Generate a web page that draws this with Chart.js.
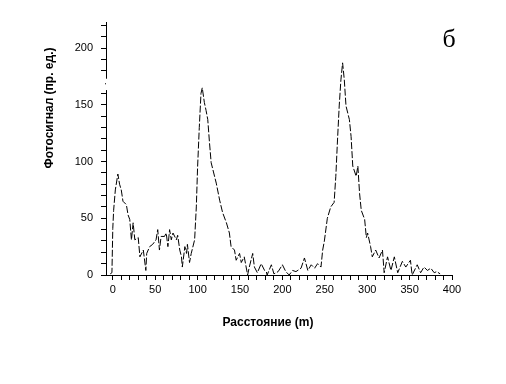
<!DOCTYPE html>
<html>
<head>
<meta charset="utf-8">
<script src="https://cdn.jsdelivr.net/npm/chart.js@4/dist/chart.umd.min.js"></script>
<style>
  html, body { margin: 0; padding: 0; background: #fff; }
  canvas { display: block; }
</style>
</head>
<body>
<canvas id="chart" width="506" height="384"></canvas>
<script>
// distance along the sample (m) and photosignal (arb. units)
const DISTANCE = [
  -3, -1, 0, 1, 3, 6, 8, 10, 12, 16, 18, 20, 22, 24, 26, 30, 32, 36, 39, 40,
  43.5, 47, 51, 53, 55, 57, 61, 63, 65, 67, 69, 71, 75, 76.5, 79, 81, 82, 85, 87, 88,
  90.5, 92.5, 96.5, 98.5, 100, 102, 104, 105.5, 108, 110, 112, 114, 116, 118, 122, 126, 129.5, 134, 137.5, 139.5,
  143.5, 145.5, 149.5, 151.5, 155, 159, 161, 165, 167, 170.5, 175, 179, 181, 182, 187, 190, 195, 200, 204, 208,
  212, 216, 222, 226, 230, 234, 238, 241.5, 245.5, 247.5, 249.5, 253, 257, 261, 263, 265, 267, 269, 271, 273,
  275, 279, 281, 283, 287, 289, 291, 293, 297, 299, 300.5, 304, 306, 310, 314, 318, 320, 324, 328, 332,
  336, 341.5, 345.5, 351, 353, 359, 363, 367, 371, 375, 379, 382, 386
];
const SIGNAL = [
  1, 2, 41, 57, 75, 89, 80, 75, 65, 62, 53, 49, 31, 46, 31, 33, 16, 22, 4, 19,
  25, 27, 31, 40, 22, 34, 34, 37, 25, 40, 31, 37, 31, 35, 22, 16, 7, 25, 19, 27,
  11, 19, 31, 60, 95, 130, 160, 165, 152, 145, 137, 117, 99, 93, 81, 66, 55, 46, 37, 25,
  22, 13, 19, 11, 16, 0, 7, 19, 7, 2, 10, 4, 3, 0, 9, 1, 3, 9, 3, 0,
  4, 3, 6, 15, 4, 9, 6, 10, 7, 22, 30, 50, 60, 64, 87, 119, 149, 172, 187, 172,
  149, 137, 122, 96, 87, 96, 72, 57, 49, 33, 37, 25, 16, 22, 15, 22, 2, 16, 4, 16,
  2, 12, 7, 13, 0, 9, 2, 7, 4, 6, 2, 3, 1
];

const X_TITLE = 'Расстояние (m)';
const Y_TITLE = 'Фотосигнал (пр. ед.)';
const PANEL = 'б';

const points = DISTANCE.map((x, i) => ({x: x, y: SIGNAL[i]}));

const BLACK = '#000';
const tickFont = {family: '"Liberation Sans", Arial, sans-serif', size: 11};

// axis titles, panel letter and the break in the y axis
const decor = {
  id: 'decor',
  afterDraw(chart) {
    const ctx = chart.ctx;
    const y = chart.scales.y;
    ctx.save();
    // break in the y axis
    ctx.fillStyle = '#fff';
    const g1 = y.getPixelForValue(173), g2 = y.getPixelForValue(163);
    ctx.fillRect(y.right - 7, g1, 9, g2 - g1);
    ctx.fillStyle = BLACK;
    ctx.fillRect(y.right - 1, y.getPixelForValue(169), 1, 1);

    ctx.fillStyle = BLACK;
    ctx.font = 'bold 12px "Liberation Sans", Arial, sans-serif';
    ctx.textAlign = 'center';
    ctx.textBaseline = 'middle';
    ctx.fillText(X_TITLE, 268, 323);

    ctx.translate(50, 108);
    ctx.rotate(-Math.PI / 2);
    ctx.fillText(Y_TITLE, 0, 0);
    ctx.setTransform(1, 0, 0, 1, 0, 0);

    ctx.font = '26px "Liberation Serif", "DejaVu Serif", serif';
    ctx.textBaseline = 'alphabetic';
    ctx.fillText(PANEL, 449, 47);
    ctx.restore();
  }
};

new Chart(document.getElementById('chart'), {
  type: 'scatter',
  data: {
    datasets: [{
      data: points,
      showLine: true,
      borderColor: BLACK,
      borderWidth: 1,
      borderDash: [7, 2],
      pointRadius: 0,
      tension: 0,
    }]
  },
  options: {
    responsive: false,
    animation: false,
    layout: {padding: {left: 0, right: 54, top: 22, bottom: 0}},
    plugins: {
      legend: {display: false},
      tooltip: {enabled: false},
    },
    scales: {
      x: {
        type: 'linear',
        min: -8,
        max: 400,
        afterFit: s => { s.height = 109; },
        border: {display: true, color: BLACK, width: 1},
        grid: {drawOnChartArea: false, drawTicks: true, tickLength: 5, color: BLACK},
        ticks: {
          stepSize: 10,
          autoSkip: false,
          maxRotation: 0,
          includeBounds: false,
          padding: 3,
          color: BLACK,
          font: tickFont,
          callback: v => (v % 50 === 0 ? v : ''),
        },
      },
      y: {
        min: 0,
        max: 223,
        afterFit: s => { s.width = 106; },
        border: {display: true, color: BLACK, width: 1},
        grid: {drawOnChartArea: false, drawTicks: true, tickLength: 5, color: BLACK},
        ticks: {
          stepSize: 10,
          autoSkip: false,
          includeBounds: false,
          padding: 8,
          color: BLACK,
          font: tickFont,
          callback: v => (v % 50 === 0 ? v : ''),
        },
      },
    },
  },
  plugins: [decor],
});
</script>
</body>
</html>
